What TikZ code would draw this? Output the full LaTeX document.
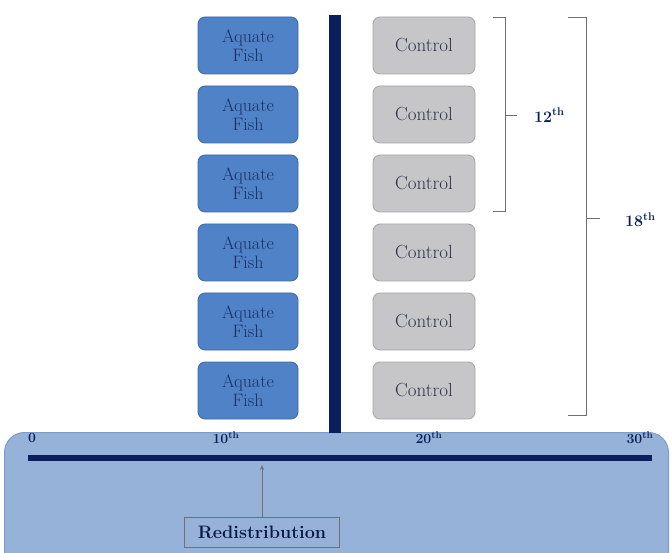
\documentclass[tikz,border=0pt]{standalone}
\usepackage{fontspec}
\usetikzlibrary{arrows.meta,positioning}
\definecolor{fishfill}{HTML}{4F82C6}
\definecolor{fishdraw}{HTML}{3B69AA}
\definecolor{fishtext}{HTML}{172F66}
\definecolor{ctrlfill}{HTML}{C6C6C8}
\definecolor{ctrldraw}{HTML}{A4A4A8}
\definecolor{ctrltext}{HTML}{2E3349}
\definecolor{navy}{HTML}{0B1F5C}
\definecolor{panelfill}{HTML}{97B2D8}
\definecolor{paneldraw}{HTML}{7D9BC6}
\definecolor{brk}{HTML}{707070}
\begin{document}
\begin{tikzpicture}[x=1pt,y=-1pt,
  fishbox/.style={rectangle,rounded corners=7pt,fill=fishfill,draw=fishdraw,line width=0.8pt,
    minimum width=100pt,minimum height=57pt,align=center,text=fishtext,font=\fontsize{18}{19}\selectfont,inner sep=0pt},
  ctrlbox/.style={rectangle,rounded corners=7pt,fill=ctrlfill,draw=ctrldraw,line width=0.8pt,
    minimum width=102pt,minimum height=57pt,align=center,text=ctrltext,font=\fontsize{19}{19}\selectfont,inner sep=0pt},
  brack/.style={draw=brk,line width=0.9pt},
  lbl/.style={font=\bfseries\fontsize{16}{16}\selectfont,text=navy,inner sep=1pt},
  tick/.style={font=\bfseries\fontsize{14}{14}\selectfont,text=navy,inner sep=1pt}
]
\useasboundingbox (0,0) rectangle (672,553);
% bottom panel
\node[draw=paneldraw,fill=panelfill,line width=1pt,rounded corners=20pt,minimum width=664pt,minimum height=140pt,anchor=north west,inner sep=0pt] (panel) at (4,432) {};
% vertical bar
\coordinate (bartop) at (335,15);
\coordinate (barbot) at (335,433);
\draw[navy,line width=12pt] (bartop) -- (barbot);
% boxes
\foreach \i in {1,...,6}{
  \node[fishbox] (f\i) at (248,{45.5+69*(\i-1)}) {Aquate\\Fish};
  \node[ctrlbox] (c\i) at (424,{45.5+69*(\i-1)}) {Control};
}
% brackets
\coordinate (b12t) at (493,17);
\coordinate (b12tr) at (505,17);
\coordinate (b12m) at (505,115);
\coordinate (b12mr) at (517,115);
\coordinate (b12br) at (505,211);
\coordinate (b12b) at (493,211);
\draw[brack] (b12t) -- (b12tr) -- (b12br) -- (b12b);
\draw[brack] (b12m) -- (b12mr);
\node[lbl,anchor=west] (l12) at (533,115) {12\textsuperscript{th}};
\coordinate (b18t) at (568,17);
\coordinate (b18tr) at (586,17);
\coordinate (b18m) at (586,218);
\coordinate (b18mr) at (600,218);
\coordinate (b18br) at (586,415);
\coordinate (b18b) at (568,415);
\draw[brack] (b18t) -- (b18tr) -- (b18br) -- (b18b);
\draw[brack] (b18m) -- (b18mr);
\node[lbl,anchor=west] (l18) at (624,220) {18\textsuperscript{th}};
% timeline
\coordinate (tl0) at (28,458);
\coordinate (tl1) at (652,458);
\draw[navy,line width=6pt] (tl0) -- (tl1);
\node[tick] (t0) at (32,438) {0};
\node[tick] (t10) at (226,438) {10\textsuperscript{th}};
\node[tick] (t20) at (429,438) {20\textsuperscript{th}};
\node[tick] (t30) at (640,438) {30\textsuperscript{th}};
% redistribution
\node[draw=brk,line width=0.8pt,font=\bfseries\fontsize{18}{18}\selectfont,text=navy!80!black,minimum width=155pt,minimum height=30pt,inner sep=2pt] (redis) at (262,532) {Redistribution};
\coordinate (arrtip) at (262,465);
\draw[brk,line width=0.8pt,-{Stealth[length=5pt,width=4pt]}] (redis.north) -- (arrtip);
\end{tikzpicture}
\end{document}
